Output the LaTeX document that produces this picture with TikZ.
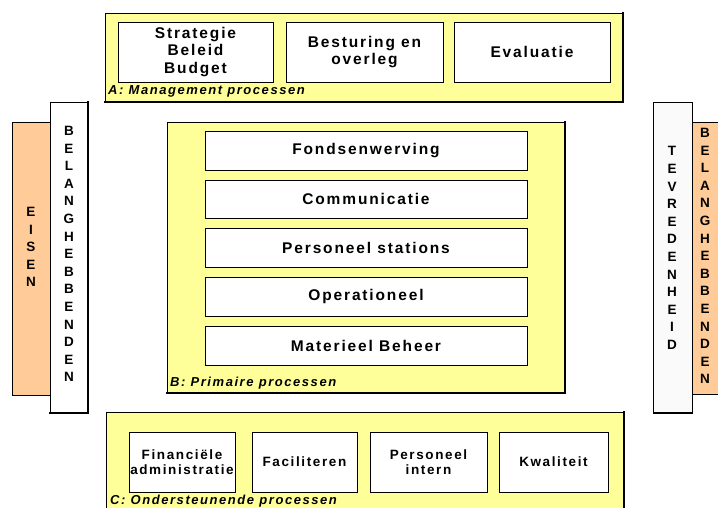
\documentclass[tikz,border=0pt]{standalone}
\usepackage{fontspec}
\setmainfont{Liberation Sans}
\newfontfamily\wfont[LetterSpace=12]{Liberation Sans}
\definecolor{paleyellow}{HTML}{FFFF99}
\definecolor{peach}{HTML}{FFCC99}
\definecolor{offwhite}{HTML}{FAFAFA}
\newcommand\mybox[7]{\node[#1, minimum width={#5-#3}, minimum height={#6-#4}] (#2) at ({(#3+#5)/2},{(#4+#6)/2}) {#7};}
\tikzset{
  base/.style={draw=black, line width=1pt, inner sep=0pt, outer sep=0pt},
  shadowed/.style={base, append after command={
     (\tikzlastnode.north east) edge[line width=2.2pt, line cap=rect] (\tikzlastnode.south east)
     (\tikzlastnode.south east) edge[line width=2.2pt, line cap=rect] (\tikzlastnode.south west)}},
  group/.style={shadowed, fill=paleyellow},
  whitebox/.style={base, fill=white, align=center, font=\wfont\bfseries\fontsize{15.5}{17.5}\selectfont},
  smallbox/.style={base, fill=white, align=center, font=\wfont\bfseries\fontsize{13.5}{15}\selectfont},
  grouplabel/.style={anchor=west, inner sep=0pt, font=\wfont\bfseries\itshape\fontsize{13}{13}\selectfont},
  vletters/.style={inner sep=0pt, align=center, font=\wfont\bfseries\fontsize{13.5}{17.6}\selectfont},
}
\begin{document}
\begin{tikzpicture}[x=1pt,y=-1pt]
\useasboundingbox (0,0) rectangle (718,507);
% A
\mybox{group}{A}{105}{13}{623}{102}{}
\mybox{whitebox}{a1}{118}{22}{273}{82}{Strategie\\Beleid\\Budget}
\mybox{whitebox}{a2}{286}{22}{443}{82}{Besturing en\\overleg}
\mybox{whitebox}{a3}{454}{22}{610}{82}{Evaluatie}
\node[grouplabel] (la) at (108,91) {A: Management processen};
% B
\mybox{group}{B}{167}{122}{565}{393}{}
\mybox{whitebox}{b1}{205}{131}{527}{170}{Fondsenwerving}
\mybox{whitebox}{b2}{205}{180}{527}{218}{Communicatie}
\mybox{whitebox}{b3}{205}{228}{527}{267}{Personeel stations}
\mybox{whitebox}{b4}{205}{277}{527}{316}{Operationeel}
\mybox{whitebox}{b5}{205}{326}{527}{365}{Materieel Beheer}
\node[grouplabel] (lb) at (170,383) {B: Primaire processen};
% C
\mybox{group}{C}{106}{412}{624}{530}{}
\mybox{smallbox}{c1}{129}{432}{235}{492}{Financiële\\administratie}
\mybox{smallbox}{c2}{252}{432}{357}{492}{Faciliteren}
\mybox{smallbox}{c3}{370}{432}{487}{492}{Personeel\\intern}
\mybox{smallbox}{c4}{499}{432}{608}{492}{Kwaliteit}
\node[grouplabel] (lc) at (110,501) {C: Ondersteunende processen};
% left side
\mybox{base, fill=peach}{eisen}{12}{122}{50}{395}{}
\mybox{shadowed, fill=white}{lbel}{50}{102}{88}{413}{}
\node[vletters] (teisen) at (31,247) {E\\I\\S\\E\\N};
\node[vletters] (tlbel) at (69,254) {B\\E\\L\\A\\N\\G\\H\\E\\B\\B\\E\\N\\D\\E\\N};
% right side
\mybox{base, fill=offwhite, append after command={(\tikzlastnode.south east) edge[line width=2.2pt] (\tikzlastnode.south west)}}{tevr}{653}{102}{692}{413}{}
\mybox{base, fill=peach}{rbel}{692}{122}{722}{394}{}
\node[vletters] (ttevr) at (672,248) {T\\E\\V\\R\\E\\D\\E\\N\\H\\E\\I\\D};
\node[vletters] (trbel) at (705,256) {B\\E\\L\\A\\N\\G\\H\\E\\B\\B\\E\\N\\D\\E\\N};
\end{tikzpicture}
\end{document}
